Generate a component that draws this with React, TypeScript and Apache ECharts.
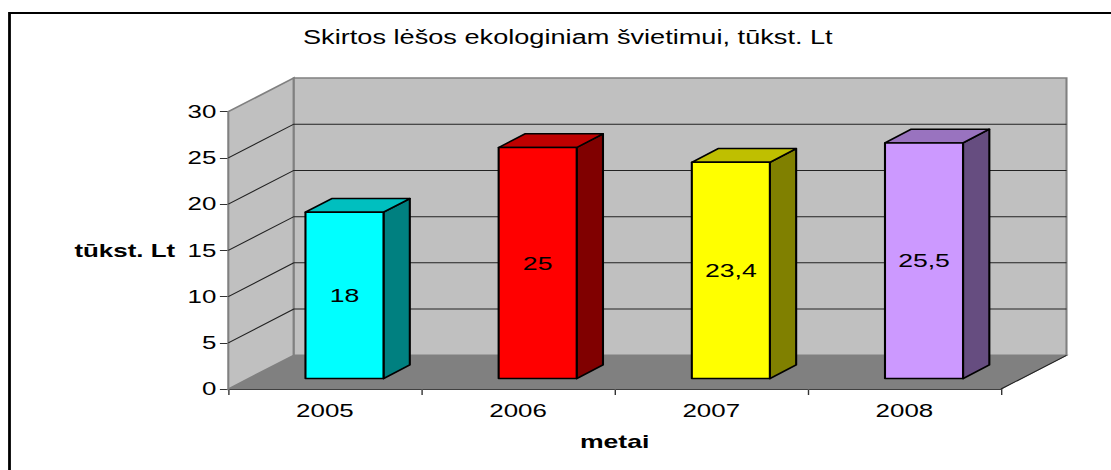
import React, { useEffect, useRef } from "react";
import * as echarts from "echarts";

const categories = ["2005", "2006", "2007", "2008"];
const values = [18, 25, 23.4, 25.5];
const valueLabels = ["18", "25", "23,4", "25,5"];
const yTicks = [0, 5, 10, 15, 20, 25, 30];
const frontColors = ["#00FFFF", "#FF0000", "#FFFF00", "#CC99FF"];
const topColors = ["#00BFBF", "#BF0000", "#BFBF00", "#9973BF"];
const sideColors = ["#008080", "#800000", "#808000", "#664D80"];
const titleText = "Skirtos lėšos ekologiniam švietimui, tūkst. Lt";

// The reference picture is a horizontally stretched image: the whole chart is drawn
// narrower and stretched with the same factor.
const SX = 1.4;
const W = 1111 / SX;
const X = (px: number) => px / SX;

const FONT = "'Liberation Sans', Arial, sans-serif";
const depthX = X(65.5);
const depthY = -33.7;
const barFrontX = X(19.6);
const barFrontY = -10.4;
const barDepthX = X(26.3);
const barDepthY = -13.7;
const barFrac = 0.404;

function renderWalls(_p: any, api: any) {
  const band = api.size([1, 0])[0];
  const [c0, y0] = api.coord([0, 0]);
  const [c3] = api.coord([3, 0]);
  const x0 = c0 - band / 2;
  const x1 = c3 + band / 2;
  const [, yTop] = api.coord([0, 30]);
  const dx = depthX;
  const dy = depthY;
  const children: any[] = [];
  children.push({
    type: "polygon",
    shape: { points: [[x0, y0], [x0 + dx, y0 + dy], [x1 + dx, y0 + dy], [x1, y0]] },
    style: { fill: "#808080", stroke: "#808080", lineWidth: 1 },
  });
  children.push({
    type: "polygon",
    shape: { points: [[x0, y0], [x0 + dx, y0 + dy], [x0 + dx, yTop + dy], [x0, yTop]] },
    style: { fill: "#C0C0C0", stroke: "#808080", lineWidth: 1.5 },
  });
  children.push({
    type: "rect",
    shape: { x: x0 + dx, y: yTop + dy, width: x1 - x0, height: y0 - yTop },
    style: { fill: "#C0C0C0", stroke: "#808080", lineWidth: 1.5 },
  });
  yTicks.slice(1, -1).forEach((t) => {
    const [, y] = api.coord([0, t]);
    children.push({
      type: "polyline",
      shape: { points: [[x0, y], [x0 + dx, y + dy], [x1 + dx, y + dy]] },
      style: { fill: "none", stroke: "#222222", lineWidth: 1 },
    });
  });
  children.push({
    type: "line",
    shape: { x1: x1, y1: y0, x2: x1 + dx, y2: y0 + dy },
    style: { stroke: "#222222", lineWidth: 1 },
  });
  return { type: "group", children };
}

function renderBar(_p: any, api: any) {
  const i = api.value(0);
  const v = api.value(1);
  const [cx, yv] = api.coord([i, v]);
  const [, y0] = api.coord([i, 0]);
  const bw = api.size([1, 0])[0] * barFrac;
  const l = cx - bw / 2 + barFrontX;
  const r = l + bw;
  const t = yv + barFrontY;
  const b = y0 + barFrontY;
  const ddx = barDepthX;
  const ddy = barDepthY;
  const stroke = { stroke: "#000000", lineWidth: 1.5, lineJoin: "round" };
  return {
    type: "group",
    children: [
      {
        type: "polygon",
        shape: { points: [[r, t], [r + ddx, t + ddy], [r + ddx, b + ddy], [r, b]] },
        style: { fill: sideColors[i], ...stroke },
      },
      {
        type: "polygon",
        shape: { points: [[l, t], [l + ddx, t + ddy], [r + ddx, t + ddy], [r, t]] },
        style: { fill: topColors[i], ...stroke },
      },
      {
        type: "rect",
        shape: { x: l, y: t, width: bw, height: b - t },
        style: { fill: frontColors[i], ...stroke },
      },
      {
        type: "text",
        x: (l + r) / 2,
        y: (t + b) / 2,
        style: {
          text: valueLabels[i],
          fill: "#000000",
          font: `19px ${FONT}`,
          align: "center",
          verticalAlign: "middle",
        },
      },
    ],
  };
}

export default function App() {
  const ref = useRef<HTMLDivElement>(null);
  useEffect(() => {
    const chart = echarts.init(ref.current!, undefined, { renderer: "svg" });
    chart.setOption({
      animation: false,
      backgroundColor: "#FFFFFF",
      title: {
        text: titleText,
        left: X(303),
        top: 28,
        padding: 0,
        textStyle: { fontFamily: FONT, fontSize: 19.4, fontWeight: "normal", color: "#000000" },
      },
      grid: { left: X(228.3), width: X(1001 - 228.3), top: 111.7, height: 277.3 },
      xAxis: {
        type: "category",
        data: categories,
        name: "metai",
        nameLocation: "middle",
        nameGap: 43,
        nameTextStyle: { fontFamily: FONT, fontSize: 19, fontWeight: "bold", color: "#000000" },
        axisLine: { show: true, lineStyle: { color: "#000000", width: 1 } },
        axisTick: { show: true, length: 6, lineStyle: { color: "#333333" } },
        axisLabel: { fontFamily: FONT, fontSize: 18.5, color: "#000000", margin: 12 },
        splitLine: { show: false },
      },
      yAxis: {
        type: "value",
        min: 0,
        max: 30,
        interval: 5,
        name: "tūkst. Lt",
        nameLocation: "middle",
        nameRotate: 0,
        nameGap: 38,
        nameTextStyle: { fontFamily: FONT, fontSize: 18.5, fontWeight: "bold", color: "#000000" },
        axisLine: { show: true, lineStyle: { color: "#333333", width: 1 } },
        axisTick: { show: true, length: 6, lineStyle: { color: "#333333" } },
        axisLabel: { fontFamily: FONT, fontSize: 18.5, color: "#000000", margin: 8.5, padding: [2, 0, 0, 0] },
        splitLine: { show: false },
      },
      series: [
        {
          type: "custom",
          coordinateSystem: "cartesian2d",
          renderItem: renderWalls,
          data: [[0, 0]],
          silent: true,
          z: 1,
          clip: false,
        },
        {
          type: "custom",
          coordinateSystem: "cartesian2d",
          renderItem: renderBar,
          data: values.map((v, i) => [i, v]),
          silent: true,
          z: 2,
          clip: false,
        },
      ],
      graphic: [
        {
          type: "polyline",
          silent: true,
          shape: { points: [[W, 13], [X(9.5), 13], [X(9.5), 470]] },
          style: { fill: "none", stroke: "#000000", lineWidth: 2 },
        },
      ],
    });
    return () => chart.dispose();
  }, []);
  return (
    <div
      ref={ref}
      style={{
        position: "absolute",
        left: 0,
        top: 0,
        width: W,
        height: 470,
        transformOrigin: "0 0",
        transform: `scaleX(${SX})`,
      }}
    />
  );
}
